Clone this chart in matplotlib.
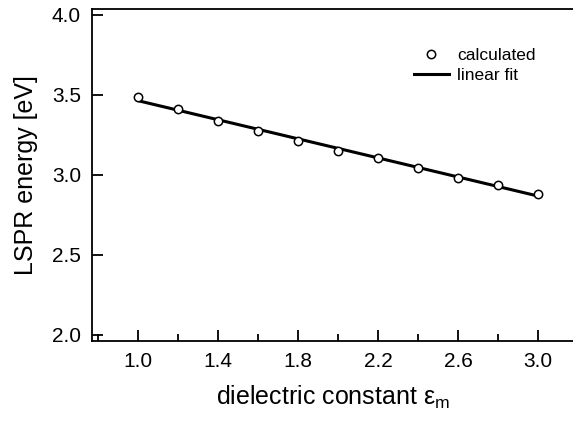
import numpy as np
import matplotlib
matplotlib.use("Agg")
import matplotlib.pyplot as plt
from matplotlib.ticker import MultipleLocator

plt.rcParams['font.family'] = ['Liberation Sans', 'DejaVu Sans']

# dielectric constant of the medium and computed LSPR energy
eps_m = [1.0, 1.2, 1.4, 1.6, 1.8, 2.0, 2.2, 2.4, 2.6, 2.8, 3.0]
energy_ev = [3.49, 3.41, 3.335, 3.275, 3.215, 3.153, 3.105, 3.046, 2.984, 2.94, 2.879]

# linear fit of the calculated points
slope, intercept = np.polyfit(eps_m, energy_ev, 1)
fit_x = np.array([eps_m[0], eps_m[-1]])
fit_y = slope * fit_x + intercept

fig = plt.figure(figsize=(5.73, 4.22), dpi=100)
ax = fig.add_axes([92 / 573, 1 - 341 / 422, 1 - 92 / 573, (341 - 9) / 422])

ax.plot(fit_x, fit_y, color='black', lw=2.2, label='linear fit', zorder=2)
ax.plot(eps_m, energy_ev, 'o', ms=6, mfc='white', mec='black', mew=1.1,
        label='calculated', zorder=3)

ax.set_xlim(0.77, 3.175)
ax.set_ylim(1.9625, 4.0375)
ax.yaxis.set_major_locator(MultipleLocator(0.5))
ax.set_xticks([1.0, 1.4, 1.8, 2.2, 2.6, 3.0])
ax.set_xticks([0.8, 1.2, 1.6, 2.0, 2.4, 2.8], minor=True)

ax.spines['right'].set_visible(False)
for s in ['left', 'bottom', 'top']:
    ax.spines[s].set_linewidth(1.3)

ax.tick_params(axis='both', which='major', direction='in', length=8, width=1.3,
               labelsize=15)
ax.tick_params(axis='x', which='major', pad=8)
ax.tick_params(axis='y', which='major', pad=8)
ax.tick_params(axis='x', which='minor', direction='in', length=5, width=1.3)
ax.tick_params(top=False, right=False, which='both')

ax.set_xlabel(r'dielectric constant $\mathregular{\varepsilon_m}$', fontsize=18, labelpad=9)
ax.set_ylabel('LSPR energy [eV]', fontsize=18, labelpad=10)

handles, labels = ax.get_legend_handles_labels()
ax.legend(handles[::-1], labels[::-1], loc='upper left', bbox_to_anchor=(0.655, 0.905),
          frameon=False, fontsize=12.5, handlelength=2.0, handletextpad=0.5,
          labelspacing=0.3, borderaxespad=0)

fig.savefig('out.png', dpi=100)
